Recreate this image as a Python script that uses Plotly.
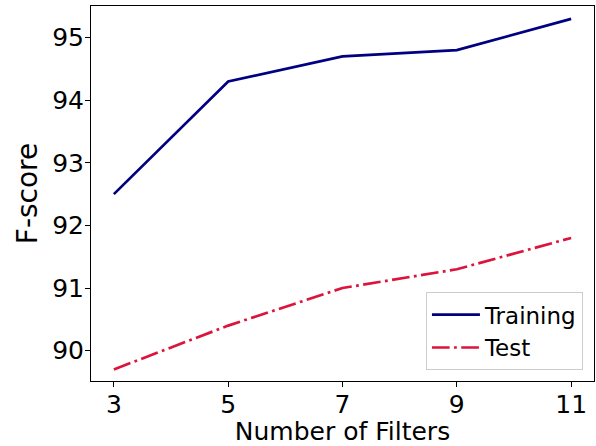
import plotly.graph_objects as go

filters = [3, 5, 7, 9, 11]
training = [92.5, 94.3, 94.7, 94.8, 95.3]
test = [89.7, 90.4, 91.0, 91.3, 91.8]
x_ticks = [3, 5, 7, 9, 11]
y_ticks = [90, 91, 92, 93, 94, 95]

FONT = "DejaVu Sans"

fig = go.Figure()
fig.add_trace(go.Scatter(x=filters, y=training, mode="lines", name="Training",
                         line=dict(color="#000080", width=2.7)))
fig.add_trace(go.Scatter(x=filters, y=test, mode="lines", name="Test",
                         line=dict(color="#DC143C", width=2.7,
                                   dash="17.7px,4.4px,2.8px,4.4px")))

axis_common = dict(showline=True, mirror=True, linecolor="black", linewidth=1,
                   ticks="outside", ticklen=5, tickwidth=1, tickcolor="black",
                   showgrid=False, zeroline=False, automargin=False,
                   ticklabelstandoff=-4,
                   tickfont=dict(family=FONT, size=25, color="black"))

fig.update_xaxes(range=[2.6, 11.4], tickvals=x_ticks, ticktext=[str(v) for v in x_ticks],
                 title=dict(text="Number of Filters", font=dict(family=FONT, size=25, color="black"),
                            standoff=12),
                 **axis_common)
fig.update_yaxes(range=[89.515, 95.505], tickvals=y_ticks, ticktext=[str(v) for v in y_ticks],
                 title=dict(text="F-score", font=dict(family=FONT, size=28, color="black"),
                            standoff=6),
                 **axis_common)

fig.update_layout(
    width=596, height=446,
    margin=dict(l=91, r=2, t=6, b=65),
    paper_bgcolor="white", plot_bgcolor="white",
    font=dict(family=FONT, color="black"),
    legend=dict(x=0.978, y=0.029, xanchor="right", yanchor="bottom",
                bgcolor="rgba(255,255,255,0.8)", bordercolor="#cccccc", borderwidth=1,
                itemwidth=48,
                font=dict(family=FONT, size=23, color="black")),
)

fig.write_html("out.html", config={"displayModeBar": False},
               post_script="document.body.style.margin='0';")
